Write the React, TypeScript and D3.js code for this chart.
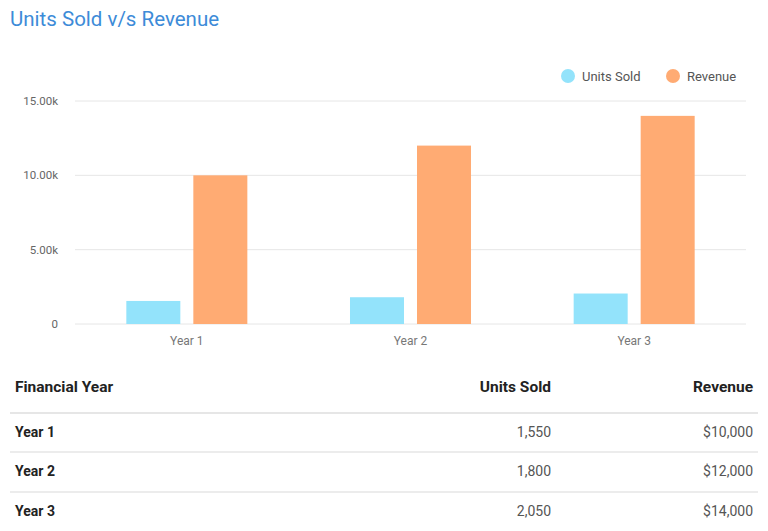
import React from "react";
import * as d3 from "d3";

const categories = ["Year 1", "Year 2", "Year 3"];
const seriesNames = ["Units Sold", "Revenue"];
const unitsSold = [1550, 1800, 2050];
const revenue = [10000, 12000, 14000];
const yTicks = [0, 5000, 10000, 15000];
const colors = ["#93E3FB", "#FFAB73"];

const W = 768;
const H = 531;
const FONT = "Roboto, 'Noto Sans', sans-serif";

export default function App() {
  const left = 75;
  const right = 746;
  const top = 101;
  const bottom = 324;

  const x0 = d3.scaleBand<string>().domain(categories).range([left, right]).paddingInner(0).paddingOuter(0);
  const bw = x0.bandwidth();
  const x1 = d3
    .scaleBand<string>()
    .domain(seriesNames)
    .range([0, bw])
    .paddingInner(0.194)
    .paddingOuter(0.766);
  const y = d3.scaleLinear().domain([0, 15000]).range([bottom, top]);
  const fmt = (v: number) => (v === 0 ? "0" : d3.format(".2f")(v / 1000) + "k");
  const series = [unitsSold, revenue];
  const numFmt = d3.format(",");
  const moneyFmt = (v: number) => "$" + d3.format(",")(v);

  const headerY = 392;
  const rowYs = [437, 476, 516];
  const lineYs = [413, 452, 492];

  return (
    <svg
      width={W}
      height={H}
      style={{ position: "absolute", left: 0, top: 0, background: "#fff" }}
      fontFamily={FONT}
    >
      <text x={10} y={26} fontSize={20.5} fill="#3D8BD8">
        Units Sold v/s Revenue
      </text>

      {/* legend */}
      {seriesNames.map((s, i) => {
        const cx = i === 0 ? 568 : 673;
        return (
          <g key={s}>
            <circle cx={cx} cy={76} r={7} fill={colors[i]} />
            <text x={cx + 14} y={80.5} fontSize={13} fill="#555">
              {s}
            </text>
          </g>
        );
      })}

      {/* grid */}
      {yTicks.map((t) => (
        <g key={t}>
          <line x1={left} x2={right} y1={y(t)} y2={y(t)} stroke="#e6e6e6" strokeWidth={1} />
          <text x={58} y={y(t) + 4} fontSize={11.5} fill="#666" textAnchor="end">
            {fmt(t)}
          </text>
        </g>
      ))}

      {/* bars */}
      {categories.map((c, ci) => (
        <g key={c} transform={`translate(${x0(c)},0)`}>
          {seriesNames.map((s, si) => (
            <rect
              key={s}
              x={x1(s)}
              y={y(series[si][ci])}
              width={x1.bandwidth()}
              height={y(0) - y(series[si][ci])}
              fill={colors[si]}
            />
          ))}
          <text x={bw / 2} y={345} fontSize={12} fill="#777" textAnchor="middle">
            {c}
          </text>
        </g>
      ))}

      {/* table */}
      <text x={15} y={headerY} fontSize={15.5} fontWeight="bold" fill="#222">
        Financial Year
      </text>
      <text x={551} y={headerY} fontSize={15.5} fontWeight="bold" fill="#222" textAnchor="end">
        Units Sold
      </text>
      <text x={753} y={headerY} fontSize={15.5} fontWeight="bold" fill="#222" textAnchor="end">
        Revenue
      </text>
      {lineYs.map((ly, i) => (
        <line key={i} x1={10} x2={758} y1={ly} y2={ly} stroke="#e6e6e6" strokeWidth={i === 0 ? 2 : 1.5} />
      ))}
      {categories.map((c, i) => (
        <g key={c}>
          <text x={15} y={rowYs[i]} fontSize={14} fontWeight="bold" fill="#222">
            {c}
          </text>
          <text x={551} y={rowYs[i]} fontSize={14} fill="#555" textAnchor="end">
            {numFmt(unitsSold[i])}
          </text>
          <text x={753} y={rowYs[i]} fontSize={14} fill="#555" textAnchor="end">
            {moneyFmt(revenue[i])}
          </text>
        </g>
      ))}
    </svg>
  );
}
